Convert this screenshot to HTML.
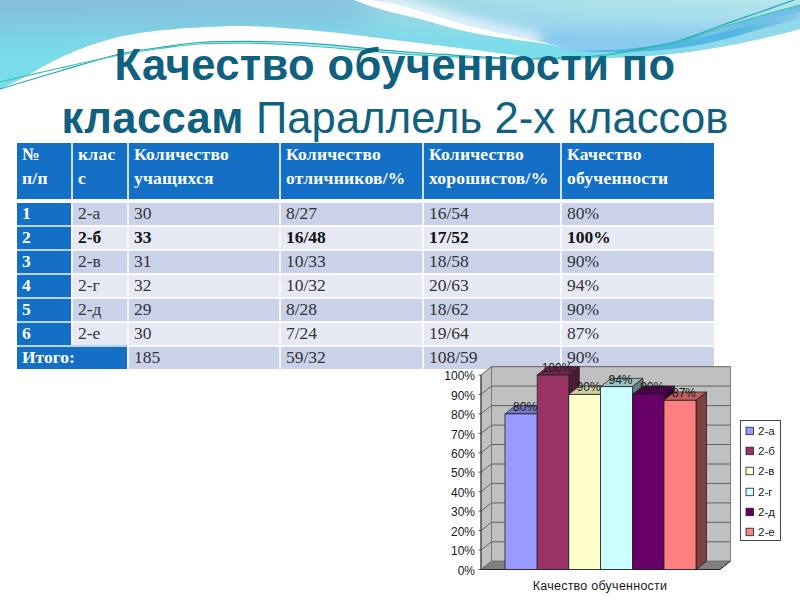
<!DOCTYPE html>
<html lang="ru">
<head>
<meta charset="utf-8">
<title>Качество обученности по классам</title>
<style>
html,body{margin:0;padding:0;}
body{width:800px;height:600px;overflow:hidden;background:#fff;position:relative;font-family:"Liberation Serif",serif;}
#bg{position:absolute;left:0;top:0;width:800px;height:600px;}
#chart{position:absolute;left:0;top:0;width:800px;height:600px;}
.ct{font-family:"Liberation Sans",sans-serif;font-size:12px;fill:#1a1a1a;}
.cx{font-size:12.5px;letter-spacing:0.25px;}
#title{position:absolute;left:0;top:39px;width:790px;text-align:center;font-family:"Liberation Sans",sans-serif;font-size:43.5px;line-height:53px;color:#0f617f;white-space:nowrap;letter-spacing:0.1px;}
#title b{font-weight:bold;letter-spacing:0.4px;}
table{position:absolute;left:17px;top:143px;border-collapse:separate;border-spacing:0;table-layout:fixed;width:697px;font-size:17.5px;color:#333;}
td,th{padding:0 0 0 5px;text-align:left;vertical-align:top;border-left:2px solid rgba(255,255,255,0.8);border-top:2px solid rgba(255,255,255,0.85);height:22px;line-height:20px;overflow:hidden;white-space:nowrap;font-weight:normal;}
td:first-child,th:first-child{border-left:0;padding-left:5px;}
th{background:#1470c6;color:#fff;font-weight:bold;height:56px;line-height:23.5px;vertical-align:top;border-top:0;letter-spacing:0.25px;}
th div{margin-top:0px;}
tr.o td{background:#c9d2e9;}
tr.e td{background:#e7eaf5;}
tr.b td{font-weight:bold;color:#111;}
tr td.h{background:#1470c6;color:#fff;font-weight:bold;border-top-color:rgba(255,255,255,0.7);}
tr.first td,tr.first td.h{border-top:4px solid #fff;}
</style>
</head>
<body>
<svg id="bg" width="800" height="600" viewBox="0 0 800 600">
<defs>
<linearGradient id="gh" x1="0" y1="0" x2="800" y2="0" gradientUnits="userSpaceOnUse">
<stop offset="0" stop-color="#86bedb"/>
<stop offset="0.42" stop-color="#88c3de"/>
<stop offset="0.5" stop-color="#9cd6e6"/>
<stop offset="0.75" stop-color="#aee3ea"/>
<stop offset="1" stop-color="#b6e7ec"/>
</linearGradient>
<linearGradient id="gv" x1="0" y1="0" x2="0" y2="90" gradientUnits="userSpaceOnUse">
<stop offset="0" stop-color="#78dcea" stop-opacity="0"/>
<stop offset="0.15" stop-color="#78dcea" stop-opacity="0.12"/>
<stop offset="0.3" stop-color="#78dcea" stop-opacity="0.45"/>
<stop offset="0.45" stop-color="#78dcea" stop-opacity="0.8"/>
<stop offset="0.62" stop-color="#78dcea" stop-opacity="1"/>
<stop offset="1" stop-color="#78dcea" stop-opacity="1"/>
</linearGradient>
<linearGradient id="gr" x1="520" y1="0" x2="520" y2="50" gradientUnits="userSpaceOnUse">
<stop offset="0" stop-color="#8ccbf0" stop-opacity="0"/>
<stop offset="0.4" stop-color="#8ccbf0" stop-opacity="0.35"/>
<stop offset="0.75" stop-color="#86c8f0" stop-opacity="0.9"/>
<stop offset="1" stop-color="#8ccbf0" stop-opacity="1"/>
</linearGradient>
<linearGradient id="gm" x1="680" y1="0" x2="800" y2="0" gradientUnits="userSpaceOnUse">
<stop offset="0" stop-color="#70bfe8" stop-opacity="0.3"/>
<stop offset="0.5" stop-color="#70bfe8" stop-opacity="1"/>
<stop offset="1" stop-color="#70bfe8" stop-opacity="1"/>
</linearGradient>
<linearGradient id="gd" x1="560" y1="0" x2="800" y2="0" gradientUnits="userSpaceOnUse">
<stop offset="0" stop-color="#54b5e4" stop-opacity="0"/>
<stop offset="0.12" stop-color="#54b5e4" stop-opacity="1"/>
<stop offset="0.75" stop-color="#56b5e3" stop-opacity="1"/>
<stop offset="1" stop-color="#8ccbe6" stop-opacity="1"/>
</linearGradient>
<linearGradient id="gl" x1="560" y1="0" x2="800" y2="0" gradientUnits="userSpaceOnUse">
<stop offset="0" stop-color="#92d8ec" stop-opacity="0"/>
<stop offset="1" stop-color="#92d8ec" stop-opacity="1"/>
</linearGradient>
<linearGradient id="gw" x1="460" y1="23" x2="468.3" y2="-11" gradientUnits="userSpaceOnUse">
<stop offset="0" stop-color="#fff" stop-opacity="0.6"/>
<stop offset="0.35" stop-color="#fff" stop-opacity="0.3"/>
<stop offset="1" stop-color="#fff" stop-opacity="0"/>
</linearGradient>
<linearGradient id="gw2" x1="460" y1="30" x2="456.4" y2="45" gradientUnits="userSpaceOnUse">
<stop offset="0" stop-color="#fff" stop-opacity="0.3"/>
<stop offset="1" stop-color="#fff" stop-opacity="0"/>
</linearGradient>
<filter id="bl" x="-20%" y="-100%" width="140%" height="300%"><feGaussianBlur stdDeviation="6"/></filter>
<clipPath id="cpR"><path d="M372.0,0.0 C376.7,0.8 392.0,3.2 400.0,5.0 C408.0,6.8 410.0,8.0 420.0,11.0 C430.0,14.0 446.7,19.3 460.0,23.0 C473.3,26.7 486.7,29.9 500.0,33.0 C513.3,36.1 529.7,39.2 540.0,41.5 C550.3,43.8 558.3,45.7 562.0,46.5 L560.0,50.5 C566.7,50.5 586.7,50.8 600.0,50.3 C613.3,49.8 626.7,48.8 640.0,47.3 C653.3,45.8 666.7,44.0 680.0,41.5 C693.3,39.0 706.7,35.8 720.0,32.5 C733.3,29.2 746.7,25.4 760.0,22.0 C773.3,18.6 793.3,13.7 800.0,12.0 V0 Z"/></clipPath>
<clipPath id="cpL"><path d="M0,0 H372 C376.7,0.8 392.0,3.2 400.0,5.0 C408.0,6.8 410.0,8.0 420.0,11.0 C430.0,14.0 446.7,19.3 460.0,23.0 C473.3,26.7 486.7,29.9 500.0,33.0 C513.3,36.1 529.7,39.2 540.0,41.5 C550.3,43.8 558.3,45.7 562.0,46.5 L560.0,50.5 C566.7,50.5 586.7,50.8 600.0,50.3 C613.3,49.8 626.7,48.8 640.0,47.3 C653.3,45.8 666.7,44.0 680.0,41.5 C693.3,39.0 706.7,35.8 720.0,32.5 C733.3,29.2 746.7,25.4 760.0,22.0 C773.3,18.6 793.3,13.7 800.0,12.0 V100 H0 Z"/></clipPath>
</defs>
<path d="M0,0 H800 V29 L800.0,29.0 C793.3,30.7 773.3,36.0 760.0,39.0 C746.7,42.0 733.3,44.7 720.0,47.0 C706.7,49.3 693.3,51.4 680.0,53.0 C666.7,54.6 653.3,55.6 640.0,56.5 C626.7,57.4 613.3,58.0 600.0,58.3 C586.7,58.6 566.7,58.5 560.0,58.5 L560.0,58.5 C558.3,58.5 555.0,58.5 550.0,58.3 C545.0,58.0 538.3,57.9 530.0,57.0 C521.7,56.1 511.7,54.5 500.0,53.0 C488.3,51.5 473.3,49.7 460.0,48.0 C446.7,46.3 430.0,44.2 420.0,43.0 C410.0,41.8 406.7,41.3 400.0,40.5 C393.3,39.7 390.0,39.2 380.0,38.0 C370.0,36.8 353.3,34.5 340.0,33.0 C326.7,31.6 313.0,30.4 300.0,29.3 C287.0,28.2 274.5,27.1 262.0,26.6 C249.5,26.1 237.4,26.0 225.0,26.2 C212.6,26.5 200.0,27.1 187.5,28.0 C175.0,28.9 159.6,30.4 150.0,31.5 C140.4,32.6 136.2,33.4 130.0,34.6 C123.8,35.8 118.7,37.0 112.5,38.6 C106.3,40.2 99.2,42.2 93.0,44.3 C86.8,46.4 81.2,48.5 75.0,51.0 C68.8,53.5 62.2,56.4 56.0,59.5 C49.8,62.6 43.1,66.3 37.5,69.4 C31.9,72.5 28.8,74.7 22.5,78.0 C16.2,81.3 3.8,87.2 0.0,89.0 Z" fill="url(#gh)"/>
<path d="M0,0 H800 V29 L800.0,29.0 C793.3,30.7 773.3,36.0 760.0,39.0 C746.7,42.0 733.3,44.7 720.0,47.0 C706.7,49.3 693.3,51.4 680.0,53.0 C666.7,54.6 653.3,55.6 640.0,56.5 C626.7,57.4 613.3,58.0 600.0,58.3 C586.7,58.6 566.7,58.5 560.0,58.5 L560.0,58.5 C558.3,58.5 555.0,58.5 550.0,58.3 C545.0,58.0 538.3,57.9 530.0,57.0 C521.7,56.1 511.7,54.5 500.0,53.0 C488.3,51.5 473.3,49.7 460.0,48.0 C446.7,46.3 430.0,44.2 420.0,43.0 C410.0,41.8 406.7,41.3 400.0,40.5 C393.3,39.7 390.0,39.2 380.0,38.0 C370.0,36.8 353.3,34.5 340.0,33.0 C326.7,31.6 313.0,30.4 300.0,29.3 C287.0,28.2 274.5,27.1 262.0,26.6 C249.5,26.1 237.4,26.0 225.0,26.2 C212.6,26.5 200.0,27.1 187.5,28.0 C175.0,28.9 159.6,30.4 150.0,31.5 C140.4,32.6 136.2,33.4 130.0,34.6 C123.8,35.8 118.7,37.0 112.5,38.6 C106.3,40.2 99.2,42.2 93.0,44.3 C86.8,46.4 81.2,48.5 75.0,51.0 C68.8,53.5 62.2,56.4 56.0,59.5 C49.8,62.6 43.1,66.3 37.5,69.4 C31.9,72.5 28.8,74.7 22.5,78.0 C16.2,81.3 3.8,87.2 0.0,89.0 Z" fill="url(#gv)" clip-path="url(#cpL)"/>
<path d="M372.0,0.0 C376.7,0.8 392.0,3.2 400.0,5.0 C408.0,6.8 410.0,8.0 420.0,11.0 C430.0,14.0 446.7,19.3 460.0,23.0 C473.3,26.7 486.7,29.9 500.0,33.0 C513.3,36.1 529.7,39.2 540.0,41.5 C550.3,43.8 558.3,45.7 562.0,46.5 L560.0,50.5 C566.7,50.5 586.7,50.8 600.0,50.3 C613.3,49.8 626.7,48.8 640.0,47.3 C653.3,45.8 666.7,44.0 680.0,41.5 C693.3,39.0 706.7,35.8 720.0,32.5 C733.3,29.2 746.7,25.4 760.0,22.0 C773.3,18.6 793.3,13.7 800.0,12.0 V0 Z" fill="url(#gr)"/>
<g clip-path="url(#cpR)"><path d="M372.0,0.0 C376.7,0.8 392.0,3.2 400.0,5.0 C408.0,6.8 410.0,8.0 420.0,11.0 C430.0,14.0 446.7,19.3 460.0,23.0 C473.3,26.7 486.7,29.9 500.0,33.0 C513.3,36.1 533.3,40.1 540.0,41.5 " fill="none" stroke="#fff" stroke-opacity="0.75" stroke-width="16" filter="url(#bl)"/></g>
<path d="M215.0,41.3 C222.5,41.3 244.2,41.2 260.0,41.5 C275.8,41.8 294.2,42.3 310.0,43.3 C325.8,44.3 340.0,45.9 355.0,47.3 C370.0,48.7 382.5,50.1 400.0,51.5 C417.5,52.9 445.0,54.5 460.0,55.5 C475.0,56.5 480.0,56.8 490.0,57.3 C500.0,57.8 508.3,58.0 520.0,58.2 C531.7,58.4 553.3,58.5 560.0,58.5 L560.0,58.5 C556.7,58.6 550.0,59.0 540.0,59.0 C530.0,59.0 513.3,58.9 500.0,58.6 C486.7,58.3 476.7,58.0 460.0,57.2 C443.3,56.4 417.5,55.0 400.0,53.7 C382.5,52.5 370.0,51.0 355.0,49.7 C340.0,48.4 325.8,47.1 310.0,46.0 C294.2,44.9 275.8,44.1 260.0,43.3 C244.2,42.5 222.5,41.6 215.0,41.3 Z" fill="#bdecf3"/>
<path d="M354.0,0.0 C358.3,1.5 369.0,5.8 380.0,9.0 C391.0,12.2 406.7,15.5 420.0,19.0 C433.3,22.5 446.7,26.9 460.0,30.0 C473.3,33.1 486.7,35.4 500.0,37.6 C513.3,39.8 529.7,41.5 540.0,43.0 C550.3,44.5 558.3,45.9 562.0,46.5 L562.0,46.5 C558.3,45.7 550.3,43.8 540.0,41.5 C529.7,39.2 513.3,36.1 500.0,33.0 C486.7,29.9 473.3,26.7 460.0,23.0 C446.7,19.3 430.0,14.0 420.0,11.0 C410.0,8.0 408.0,6.8 400.0,5.0 C392.0,3.2 376.7,0.8 372.0,0.0 Z" fill="#fff"/>
<path d="M680.0,41.5 C686.7,39.2 706.7,32.2 720.0,28.0 C733.3,23.8 746.7,19.8 760.0,16.0 C773.3,12.2 793.3,6.8 800.0,5.0 L800.0,12.0 C793.3,13.7 773.3,18.6 760.0,22.0 C746.7,25.4 733.3,29.2 720.0,32.5 C706.7,35.8 686.7,40.0 680.0,41.5 Z" fill="url(#gm)"/>
<path d="M560.0,50.5 C566.7,50.5 586.7,50.8 600.0,50.3 C613.3,49.8 626.7,48.8 640.0,47.3 C653.3,45.8 666.7,44.0 680.0,41.5 C693.3,39.0 706.7,35.8 720.0,32.5 C733.3,29.2 746.7,25.4 760.0,22.0 C773.3,18.6 793.3,13.7 800.0,12.0 L800.0,19.0 C793.3,20.8 773.3,25.9 760.0,29.5 C746.7,33.1 733.3,37.4 720.0,40.5 C706.7,43.6 693.3,46.2 680.0,48.0 C666.7,49.8 653.3,50.8 640.0,51.5 C626.7,52.2 613.3,52.2 600.0,52.0 C586.7,51.8 566.7,50.8 560.0,50.5 Z" fill="url(#gd)"/>
<path d="M560.0,50.5 C566.7,50.8 586.7,51.8 600.0,52.0 C613.3,52.2 626.7,52.2 640.0,51.5 C653.3,50.8 666.7,49.8 680.0,48.0 C693.3,46.2 706.7,43.6 720.0,40.5 C733.3,37.4 746.7,33.1 760.0,29.5 C773.3,25.9 793.3,20.8 800.0,19.0 L800.0,29.0 C793.3,30.7 773.3,36.0 760.0,39.0 C746.7,42.0 733.3,44.7 720.0,47.0 C706.7,49.3 693.3,51.4 680.0,53.0 C666.7,54.6 653.3,55.6 640.0,56.5 C626.7,57.4 613.3,58.0 600.0,58.3 C586.7,58.6 566.7,58.5 560.0,58.5 Z" fill="url(#gl)"/>
<path d="M0.0,89.0 C10.0,86.0 40.0,76.8 60.0,71.0 C80.0,65.2 103.3,57.9 120.0,54.0 C136.7,50.1 146.7,49.4 160.0,47.5 C173.3,45.6 183.3,43.5 200.0,42.5 C216.7,41.5 241.7,41.4 260.0,41.5 C278.3,41.6 294.2,42.3 310.0,43.3 C325.8,44.3 340.0,45.9 355.0,47.3 C370.0,48.7 382.5,50.1 400.0,51.5 C417.5,52.9 445.0,54.5 460.0,55.5 C475.0,56.5 480.0,56.8 490.0,57.3 C500.0,57.8 508.3,58.1 520.0,58.2 C531.7,58.3 546.7,58.5 560.0,58.0 C573.3,57.5 586.7,57.0 600.0,55.5 C613.3,54.0 626.7,51.5 640.0,49.0 C653.3,46.5 666.7,44.3 680.0,40.5 C693.3,36.7 706.7,30.8 720.0,26.0 C733.3,21.2 747.7,16.3 760.0,12.0 C772.3,7.7 788.3,2.0 794.0,0.0 " fill="none" stroke="#25a2c2" stroke-width="1.2"/>
<path d="M0.0,82.0 C10.0,79.7 40.0,72.5 60.0,68.0 C80.0,63.5 103.3,58.2 120.0,55.0 C136.7,51.8 146.7,50.3 160.0,48.5 C173.3,46.7 183.3,44.9 200.0,44.0 C216.7,43.1 241.7,43.0 260.0,43.3 C278.3,43.6 294.2,44.9 310.0,46.0 C325.8,47.1 340.0,48.4 355.0,49.7 C370.0,51.0 382.5,52.5 400.0,53.7 C417.5,55.0 443.3,56.4 460.0,57.2 C476.7,58.0 486.7,58.3 500.0,58.6 C513.3,58.9 526.7,59.1 540.0,59.0 C553.3,58.9 563.3,59.5 580.0,58.0 C596.7,56.5 623.3,52.7 640.0,50.0 C656.7,47.3 666.7,45.7 680.0,42.0 C693.3,38.3 706.7,32.3 720.0,28.0 C733.3,23.7 746.7,19.8 760.0,16.0 C773.3,12.2 793.3,6.8 800.0,5.0 " fill="none" stroke="#34c8a4" stroke-width="1.2"/>

</svg>
<div id="title"><b>Качество обученности по<br>классам</b> Параллель 2-х классов</div>
<table>
<colgroup><col style="width:54px"><col style="width:56px"><col style="width:152px"><col style="width:143px"><col style="width:138px"><col style="width:154px"></colgroup>
<tr><th><div>№<br>п/п</div></th><th><div>клас<br>с</div></th><th><div>Количество<br>учащихся</div></th><th><div>Количество<br>отличников/%</div></th><th><div>Количество<br>хорошистов/%</div></th><th><div>Качество<br>обученности</div></th></tr>
<tr class="o first"><td class="h">1</td><td>2-а</td><td>30</td><td>8/27</td><td>16/54</td><td>80%</td></tr>
<tr class="e b"><td class="h">2</td><td>2-б</td><td>33</td><td>16/48</td><td>17/52</td><td>100%</td></tr>
<tr class="o"><td class="h">3</td><td>2-в</td><td>31</td><td>10/33</td><td>18/58</td><td>90%</td></tr>
<tr class="e"><td class="h">4</td><td>2-г</td><td>32</td><td>10/32</td><td>20/63</td><td>94%</td></tr>
<tr class="o"><td class="h">5</td><td>2-д</td><td>29</td><td>8/28</td><td>18/62</td><td>90%</td></tr>
<tr class="e"><td class="h">6</td><td>2-е</td><td>30</td><td>7/24</td><td>19/64</td><td>87%</td></tr>
<tr class="o"><td class="h" colspan="2">Итого:</td><td>185</td><td>59/32</td><td>108/59</td><td>90%</td></tr>
</table>
<svg id="chart" width="800" height="600" viewBox="0 0 800 600">
<polygon points="491.5,366.7 730.5,366.7 730.5,561.2 491.5,561.2" fill="#c0c0c0"/>
<polygon points="481,375.0 491.5,366.7 491.5,561.2 481,569.5" fill="#c0c0c0"/>
<polygon points="481,569.5 491.5,561.2 730.5,561.2 720.0,569.5" fill="#808080"/>
<path d="M478.5,569.5 H481 L491.5,561.2 H730.5" fill="none" stroke="#555" stroke-width="0.9"/>
<path d="M478.5,550.0 H481 L491.5,541.8 H730.5" fill="none" stroke="#555" stroke-width="0.9"/>
<path d="M478.5,530.6 H481 L491.5,522.3 H730.5" fill="none" stroke="#555" stroke-width="0.9"/>
<path d="M478.5,511.1 H481 L491.5,502.9 H730.5" fill="none" stroke="#555" stroke-width="0.9"/>
<path d="M478.5,491.7 H481 L491.5,483.4 H730.5" fill="none" stroke="#555" stroke-width="0.9"/>
<path d="M478.5,472.2 H481 L491.5,464.0 H730.5" fill="none" stroke="#555" stroke-width="0.9"/>
<path d="M478.5,452.8 H481 L491.5,444.5 H730.5" fill="none" stroke="#555" stroke-width="0.9"/>
<path d="M478.5,433.4 H481 L491.5,425.1 H730.5" fill="none" stroke="#555" stroke-width="0.9"/>
<path d="M478.5,413.9 H481 L491.5,405.6 H730.5" fill="none" stroke="#555" stroke-width="0.9"/>
<path d="M478.5,394.4 H481 L491.5,386.1 H730.5" fill="none" stroke="#555" stroke-width="0.9"/>
<path d="M478.5,375.0 H481 L491.5,366.7 H730.5" fill="none" stroke="#555" stroke-width="0.9"/>
<path d="M491.5,366.7 V561.2 M730.5,366.7 V561.2" fill="none" stroke="#666" stroke-width="0.8"/>
<path d="M481,375.0 V569.5" fill="none" stroke="#333" stroke-width="1.3"/>
<path d="M481,569.5 H720.0 L730.5,561.2" fill="none" stroke="#222" stroke-width="1"/>
<polygon points="505,413.9 537.2,413.9 547.7,405.6 515.5,405.6" fill="#7878c8" stroke="#222" stroke-width="0.8"/>
<polygon points="537.2,413.9 547.7,405.6 547.7,561.2 537.2,569.5" fill="#4d4d80" stroke="#222" stroke-width="0.8"/>
<rect x="505" y="413.9" width="32.2" height="155.6" fill="#9999ff" stroke="#222" stroke-width="0.8"/>
<polygon points="537.2,375.0 568.8,375.0 579.3,366.7 547.7,366.7" fill="#73264d" stroke="#222" stroke-width="0.8"/>
<polygon points="568.8,375.0 579.3,366.7 579.3,561.2 568.8,569.5" fill="#4d1a33" stroke="#222" stroke-width="0.8"/>
<rect x="537.2" y="375.0" width="31.6" height="194.5" fill="#993366" stroke="#222" stroke-width="0.8"/>
<polygon points="568.8,394.4 600.5,394.4 611.0,386.1 579.3,386.1" fill="#cfcfa6" stroke="#222" stroke-width="0.8"/>
<polygon points="600.5,394.4 611.0,386.1 611.0,561.2 600.5,569.5" fill="#808066" stroke="#222" stroke-width="0.8"/>
<rect x="568.8" y="394.4" width="31.7" height="175.1" fill="#ffffcc" stroke="#222" stroke-width="0.8"/>
<polygon points="600.5,386.7 632.4,386.7 642.9,378.4 611.0,378.4" fill="#99bfbf" stroke="#222" stroke-width="0.8"/>
<polygon points="632.4,386.7 642.9,378.4 642.9,561.2 632.4,569.5" fill="#668080" stroke="#222" stroke-width="0.8"/>
<rect x="600.5" y="386.7" width="31.9" height="182.8" fill="#ccffff" stroke="#222" stroke-width="0.8"/>
<polygon points="632.4,394.4 664,394.4 674.5,386.1 642.9,386.1" fill="#4d004d" stroke="#222" stroke-width="0.8"/>
<polygon points="664,394.4 674.5,386.1 674.5,561.2 664,569.5" fill="#330033" stroke="#222" stroke-width="0.8"/>
<rect x="632.4" y="394.4" width="31.6" height="175.1" fill="#660066" stroke="#222" stroke-width="0.8"/>
<polygon points="664,400.3 696,400.3 706.5,392.0 674.5,392.0" fill="#bf6060" stroke="#222" stroke-width="0.8"/>
<polygon points="696,400.3 706.5,392.0 706.5,561.2 696,569.5" fill="#804040" stroke="#222" stroke-width="0.8"/>
<rect x="664" y="400.3" width="32.0" height="169.2" fill="#ff8080" stroke="#222" stroke-width="0.8"/>
<text x="525.1" y="410.7" text-anchor="middle" class="ct">80%</text>
<text x="557.0" y="371.8" text-anchor="middle" class="ct">100%</text>
<text x="588.6" y="391.2" text-anchor="middle" class="ct">90%</text>
<text x="620.5" y="383.5" text-anchor="middle" class="ct">94%</text>
<text x="652.2" y="391.2" text-anchor="middle" class="ct">90%</text>
<text x="684.0" y="397.1" text-anchor="middle" class="ct">87%</text>
<text x="475" y="574.6" text-anchor="end" class="ct">0%</text>
<text x="475" y="555.1" text-anchor="end" class="ct">10%</text>
<text x="475" y="535.7" text-anchor="end" class="ct">20%</text>
<text x="475" y="516.2" text-anchor="end" class="ct">30%</text>
<text x="475" y="496.8" text-anchor="end" class="ct">40%</text>
<text x="475" y="477.4" text-anchor="end" class="ct">50%</text>
<text x="475" y="457.9" text-anchor="end" class="ct">60%</text>
<text x="475" y="438.5" text-anchor="end" class="ct">70%</text>
<text x="475" y="419.0" text-anchor="end" class="ct">80%</text>
<text x="475" y="399.6" text-anchor="end" class="ct">90%</text>
<text x="475" y="380.1" text-anchor="end" class="ct">100%</text>
<text x="600" y="589.8" text-anchor="middle" class="ct cx">Качество обученности</text>
<rect x="740.5" y="420.5" width="40" height="120" fill="#fff" stroke="#333" stroke-width="0.9"/>
<rect x="746" y="427.2" width="7.5" height="7.5" fill="#9999ff" stroke="#222" stroke-width="0.8"/>
<text x="758" y="435.2" class="ct" style="font-size:11.5px">2-а</text>
<rect x="746" y="447.2" width="7.5" height="7.5" fill="#993366" stroke="#222" stroke-width="0.8"/>
<text x="758" y="455.2" class="ct" style="font-size:11.5px">2-б</text>
<rect x="746" y="467.2" width="7.5" height="7.5" fill="#ffffcc" stroke="#222" stroke-width="0.8"/>
<text x="758" y="475.2" class="ct" style="font-size:11.5px">2-в</text>
<rect x="746" y="488.2" width="7.5" height="7.5" fill="#ccffff" stroke="#222" stroke-width="0.8"/>
<text x="758" y="496.2" class="ct" style="font-size:11.5px">2-г</text>
<rect x="746" y="508.2" width="7.5" height="7.5" fill="#660066" stroke="#222" stroke-width="0.8"/>
<text x="758" y="516.2" class="ct" style="font-size:11.5px">2-д</text>
<rect x="746" y="528.2" width="7.5" height="7.5" fill="#ff8080" stroke="#222" stroke-width="0.8"/>
<text x="758" y="536.2" class="ct" style="font-size:11.5px">2-е</text>
</svg>
</body>
</html>
